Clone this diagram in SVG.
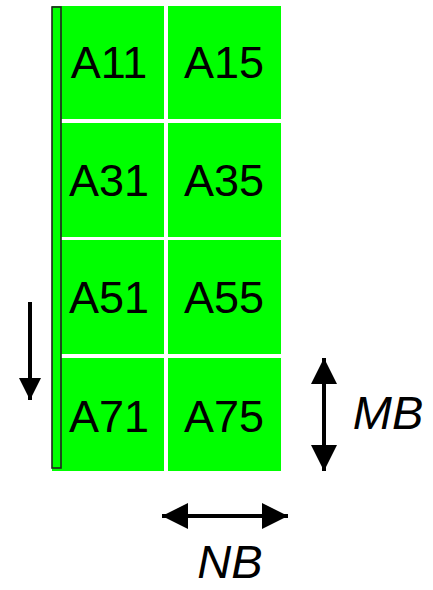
<svg xmlns="http://www.w3.org/2000/svg" width="433" height="590" viewBox="0 0 433 590">
<style>
.tile{fill:#00ff00}
.lbl{font-family:"Liberation Sans",Arial,sans-serif;font-size:45px;fill:#000;text-anchor:middle}
.it{font-family:"Liberation Sans",Arial,sans-serif;font-size:47px;font-style:italic;fill:#000;text-anchor:middle}
.ln{stroke:#000;stroke-width:4;fill:none}
</style>
<defs>
<marker id="ah" viewBox="0 0 10 10" refX="10" refY="5" markerWidth="6.5" markerHeight="6.5" orient="auto-start-reverse" markerUnits="strokeWidth">
<path d="M0,0 L10,5 L0,10 z" fill="#000"/>
</marker>
<marker id="ahs" viewBox="0 0 10 10" refX="10" refY="5" markerWidth="5.5" markerHeight="5.5" orient="auto" markerUnits="strokeWidth">
<path d="M0,0 L10,5 L0,10 z" fill="#000"/>
</marker>
</defs>
<g id="A11"><rect class="tile" x="52" y="6" width="112" height="113"/><text class="lbl" x="109" y="78">A11</text></g>
<g id="A15"><rect class="tile" x="168" y="6" width="113" height="113"/><text class="lbl" x="224" y="78">A15</text></g>
<g id="A31"><rect class="tile" x="52" y="123" width="112" height="114"/><text class="lbl" x="109" y="196">A31</text></g>
<g id="A35"><rect class="tile" x="168" y="123" width="113" height="114"/><text class="lbl" x="224" y="196">A35</text></g>
<g id="A51"><rect class="tile" x="52" y="240" width="112" height="114"/><text class="lbl" x="109" y="313">A51</text></g>
<g id="A55"><rect class="tile" x="168" y="240" width="113" height="114"/><text class="lbl" x="224" y="313">A55</text></g>
<g id="A71"><rect class="tile" x="52" y="358" width="112" height="113"/><text class="lbl" x="109" y="432">A71</text></g>
<g id="A75"><rect class="tile" x="168" y="358" width="113" height="113"/><text class="lbl" x="224" y="432">A75</text></g>
<g id="column"><rect x="52" y="7" width="9" height="461" fill="#00ff00" stroke="#222" stroke-width="1.6"/></g>
<g id="connectors">
<line class="ln" x1="30" y1="302" x2="30" y2="400" stroke-width="3" marker-end="url(#ahs)"/>
<line class="ln" x1="324" y1="358" x2="324" y2="471" marker-start="url(#ah)" marker-end="url(#ah)"/>
<line class="ln" x1="162" y1="516" x2="288" y2="516" marker-start="url(#ah)" marker-end="url(#ah)"/>
</g>
<g id="MB"><text class="it" x="388" y="429">MB</text></g>
<g id="NB"><text class="it" x="230" y="578">NB</text></g>
</svg>
